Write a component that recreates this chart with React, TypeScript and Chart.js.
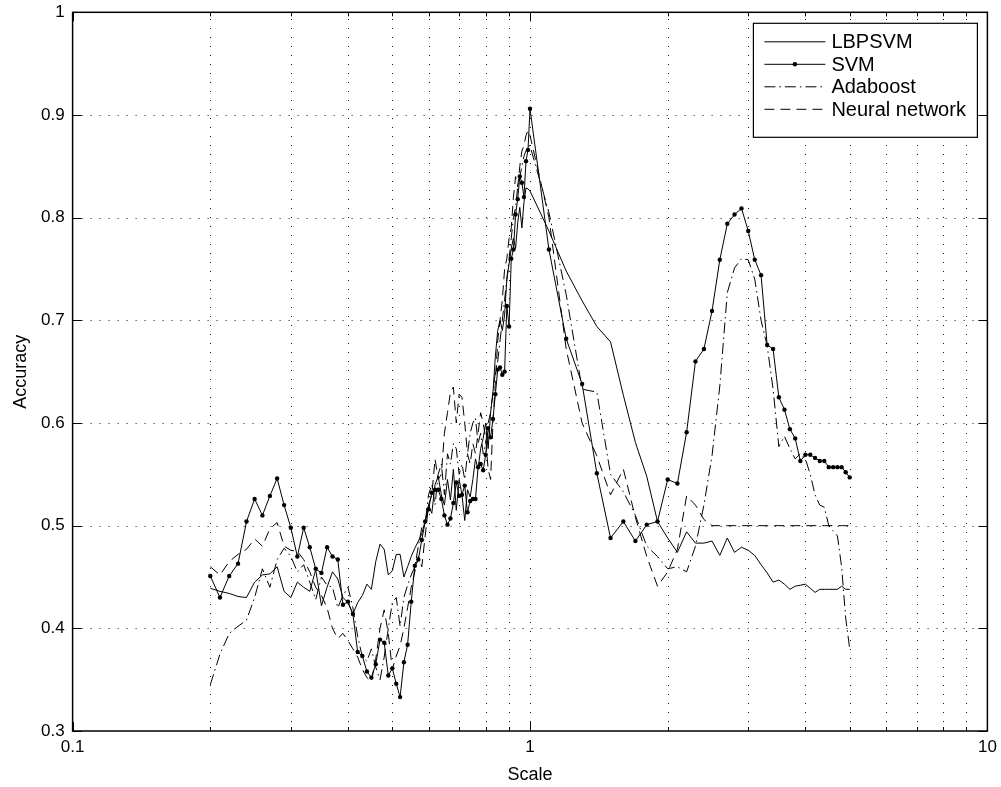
import React, { useEffect, useRef } from 'react';
import { Chart, registerables } from 'chart.js';

Chart.register(...registerables);

// ---------------- data ----------------
const scaleValues = [
  0.20, 0.21, 0.22, 0.23, 0.24, 0.25, 0.26, 0.27, 0.28, 0.29,
  0.30, 0.31, 0.32, 0.33, 0.34, 0.35, 0.36, 0.37, 0.38, 0.39,
  0.40, 0.41, 0.42, 0.43, 0.44, 0.45, 0.46, 0.47, 0.48, 0.49,
  0.50, 0.51, 0.52, 0.53, 0.54, 0.55, 0.56, 0.57, 0.58, 0.59,
  0.60, 0.61, 0.62, 0.63, 0.64, 0.65, 0.66, 0.67, 0.68, 0.69,
  0.70, 0.71, 0.72, 0.73, 0.74, 0.75, 0.76, 0.77, 0.78, 0.79,
  0.80, 0.81, 0.82, 0.83, 0.84, 0.85, 0.86, 0.87, 0.88, 0.89,
  0.90, 0.91, 0.92, 0.93, 0.94, 0.95, 0.96, 0.97, 0.98, 0.99,
  1.0,
  1.1, 1.2, 1.3, 1.4, 1.5, 1.6, 1.7, 1.8, 1.9, 2.0,
  2.1, 2.2, 2.3, 2.4, 2.5, 2.6, 2.7, 2.8, 2.9, 3.0,
  3.1, 3.2, 3.3, 3.4, 3.5, 3.6, 3.7, 3.8, 3.9, 4.0,
  4.1, 4.2, 4.3, 4.4, 4.5, 4.6, 4.7, 4.8, 4.9, 5.0,
];

const lbpsvm = [
  0.439, 0.436, 0.434, 0.431, 0.430, 0.445, 0.452, 0.453, 0.460, 0.436,
  0.430, 0.445, 0.440, 0.436, 0.457, 0.422, 0.440, 0.455, 0.448, 0.430,
  0.425, 0.414, 0.425, 0.432, 0.443, 0.438, 0.465, 0.482, 0.477, 0.452,
  0.456, 0.472, 0.472, 0.450, 0.460, 0.470, 0.478, 0.485, 0.492, 0.505,
  0.520, 0.512, 0.540, 0.548, 0.530, 0.520, 0.545, 0.525, 0.555, 0.515,
  0.545, 0.530, 0.505, 0.535, 0.528, 0.545, 0.565, 0.555, 0.575, 0.585,
  0.600, 0.575, 0.610, 0.630, 0.665, 0.690, 0.700, 0.690, 0.705, 0.740,
  0.755, 0.770, 0.780, 0.770, 0.795, 0.810, 0.790, 0.815, 0.829, 0.828,
  0.826,
  0.787, 0.748, 0.719, 0.694, 0.679, 0.627, 0.581, 0.548, 0.504, 0.488,
  0.474, 0.494, 0.483, 0.483, 0.485, 0.471, 0.488, 0.474, 0.479, 0.476,
  0.471, 0.462, 0.454, 0.445, 0.447, 0.443, 0.438, 0.441, 0.442, 0.443,
  0.439, 0.435, 0.438, 0.438, 0.438, 0.438, 0.438, 0.441, 0.438, 0.438,
];

const svm = [
  0.451, 0.430, 0.451, 0.463, 0.504, 0.526, 0.510, 0.529, 0.546, 0.520,
  0.498, 0.470, 0.498, 0.479, 0.458, 0.454, 0.479, 0.470, 0.467, 0.423,
  0.426, 0.414, 0.377, 0.373, 0.358, 0.352, 0.365, 0.389, 0.386, 0.354,
  0.361, 0.346, 0.333, 0.367, 0.384, 0.426, 0.461, 0.467, 0.486, 0.504,
  0.516, 0.532, 0.535, 0.535, 0.526, 0.510, 0.501, 0.507, 0.522, 0.542,
  0.529, 0.530, 0.539, 0.513, 0.524, 0.526, 0.526, 0.557, 0.560, 0.554,
  0.569, 0.595, 0.586, 0.604, 0.628, 0.652, 0.654, 0.647, 0.650, 0.714,
  0.694, 0.760, 0.769, 0.803, 0.818, 0.840, 0.834, 0.820, 0.855, 0.866,
  0.906,
  0.769, 0.682, 0.638, 0.551, 0.488, 0.504, 0.485, 0.501, 0.504, 0.545,
  0.541, 0.591, 0.660, 0.672, 0.709, 0.759, 0.794, 0.803, 0.809, 0.787,
  0.759, 0.744, 0.676, 0.672, 0.625, 0.613, 0.594, 0.585, 0.563, 0.569,
  0.569, 0.566, 0.563, 0.563, 0.557, 0.557, 0.557, 0.557, 0.552, 0.547,
];

const adaboost = [
  0.345, 0.375, 0.395, 0.402, 0.408, 0.430, 0.458, 0.440, 0.467, 0.478,
  0.470, 0.455, 0.462, 0.445, 0.428, 0.450, 0.442, 0.440, 0.420, 0.432,
  0.440, 0.420, 0.392, 0.372, 0.368, 0.380, 0.362, 0.350, 0.372, 0.400,
  0.425, 0.430, 0.402, 0.430, 0.442, 0.452, 0.460, 0.480, 0.498, 0.502,
  0.530, 0.540, 0.520, 0.550, 0.560, 0.530, 0.570, 0.560, 0.580, 0.575,
  0.550, 0.560, 0.545, 0.570, 0.590, 0.600, 0.605, 0.580, 0.590, 0.570,
  0.580, 0.600, 0.610, 0.630, 0.650, 0.660, 0.680, 0.700, 0.720, 0.740,
  0.760, 0.780, 0.800, 0.810, 0.830, 0.840, 0.850, 0.860, 0.865, 0.870,
  0.870,
  0.805, 0.725, 0.633, 0.630, 0.550, 0.533, 0.510, 0.480, 0.470, 0.458,
  0.460, 0.455, 0.480, 0.520, 0.568, 0.636, 0.727, 0.751, 0.760, 0.759,
  0.740, 0.700, 0.675, 0.633, 0.577, 0.587, 0.575, 0.565, 0.570, 0.565,
  0.550, 0.530, 0.520, 0.518, 0.500, 0.495, 0.490, 0.460, 0.410, 0.380,
];

const neuralNetwork = [
  0.460, 0.452, 0.465, 0.472, 0.477, 0.487, 0.480, 0.497, 0.503, 0.480,
  0.476, 0.475, 0.467, 0.455, 0.440, 0.432, 0.420, 0.400, 0.390, 0.395,
  0.388, 0.380, 0.372, 0.360, 0.352, 0.348, 0.370, 0.400, 0.418, 0.395,
  0.360, 0.373, 0.383, 0.400, 0.420, 0.440, 0.455, 0.470, 0.460, 0.490,
  0.520, 0.530, 0.565, 0.545, 0.550, 0.590, 0.610, 0.630, 0.635, 0.600,
  0.628, 0.625, 0.600, 0.570, 0.560, 0.580, 0.570, 0.590, 0.610, 0.600,
  0.585, 0.555, 0.545, 0.600, 0.640, 0.680, 0.700, 0.720, 0.750, 0.760,
  0.780, 0.790, 0.820, 0.840, 0.830, 0.850, 0.865, 0.870, 0.880, 0.885,
  0.880,
  0.800, 0.672, 0.600, 0.568, 0.530, 0.555, 0.508, 0.470, 0.441, 0.455,
  0.477, 0.529, 0.520, 0.506, 0.500, 0.500, 0.500, 0.500, 0.500, 0.500,
  0.500, 0.500, 0.500, 0.500, 0.500, 0.500, 0.500, 0.500, 0.500, 0.500,
  0.500, 0.500, 0.500, 0.500, 0.500, 0.500, 0.500, 0.500, 0.500, 0.500,
];

const seriesNames = ['LBPSVM', 'SVM', 'Adaboost', 'Neural network'];

const xTickValues = [0.1, 0.2, 0.3, 0.4, 0.5, 0.6, 0.7, 0.8, 0.9, 1, 2, 3, 4, 5, 6, 7, 8, 9, 10];
const xTickLabels = ['0.1', '', '', '', '', '', '', '', '', '1', '', '', '', '', '', '', '', '', '10'];
const yTickValues = [0.3, 0.4, 0.5, 0.6, 0.7, 0.8, 0.9, 1.0];
const yTickLabels = ['0.3', '0.4', '0.5', '0.6', '0.7', '0.8', '0.9', '1'];

const xTitle = 'Scale';
const yTitle = 'Accuracy';

// ---------------- styling ----------------
const FONT = "'Liberation Sans', Arial, Helvetica, sans-serif";
const BLACK = '#000000';

const toPoints = (ys: number[]) => scaleValues.map((x, i) => ({ x, y: ys[i] }));

const frameAndGridPlugin = {
  id: 'frameAndGrid',
  beforeDatasetsDraw(chart: any) {
    const { ctx, chartArea: a, scales } = chart;
    const xs = scales.x;
    const ys = scales.y;
    ctx.save();
    ctx.strokeStyle = '#1a1a1a';
    ctx.lineWidth = 1;
    ctx.setLineDash([1, 8]);
    xTickValues.forEach((v, i) => {
      if (i === 0 || i === xTickValues.length - 1) return;
      const px = Math.round(xs.getPixelForValue(v)) + 0.5;
      ctx.beginPath();
      ctx.moveTo(px, a.bottom);
      ctx.lineTo(px, a.top);
      ctx.stroke();
    });
    yTickValues.forEach((v, i) => {
      if (i === 0 || i === yTickValues.length - 1) return;
      const py = Math.round(ys.getPixelForValue(v)) + 0.5;
      ctx.beginPath();
      ctx.moveTo(a.left, py);
      ctx.lineTo(a.right, py);
      ctx.stroke();
    });
    ctx.restore();
  },
  afterDraw(chart: any) {
    const { ctx, chartArea: a, scales } = chart;
    const xs = scales.x;
    const ys = scales.y;
    ctx.save();
    ctx.setLineDash([]);
    ctx.strokeStyle = BLACK;
    ctx.lineWidth = 1;
    // inward ticks
    xTickValues.forEach((v, i) => {
      const px = Math.round(xs.getPixelForValue(v)) + 0.5;
      const len = xTickLabels[i] ? 9 : 4;
      ctx.beginPath();
      ctx.moveTo(px, a.bottom);
      ctx.lineTo(px, a.bottom - len);
      ctx.moveTo(px, a.top);
      ctx.lineTo(px, a.top + len);
      ctx.stroke();
    });
    yTickValues.forEach((v) => {
      const py = Math.round(ys.getPixelForValue(v)) + 0.5;
      ctx.beginPath();
      ctx.moveTo(a.left, py);
      ctx.lineTo(a.left + 9, py);
      ctx.moveTo(a.right, py);
      ctx.lineTo(a.right - 9, py);
      ctx.stroke();
    });
    // frame
    ctx.lineWidth = 1.5;
    ctx.strokeRect(a.left, a.top, a.right - a.left, a.bottom - a.top);

    // legend box
    const bx = a.right - 234;
    const by = a.top + 11;
    const bw = 224;
    const bh = 114;
    ctx.fillStyle = '#ffffff';
    ctx.fillRect(bx, by, bw, bh);
    ctx.lineWidth = 1.2;
    ctx.strokeRect(bx, by, bw, bh);

    const datasets = chart.data.datasets;
    ctx.font = `20px ${FONT}`;
    ctx.textBaseline = 'middle';
    ctx.textAlign = 'left';
    datasets.forEach((ds: any, i: number) => {
      const rowY = by + 18.5 + i * 22.5;
      const x0 = bx + 11;
      const x1 = bx + 72;
      ctx.save();
      ctx.strokeStyle = BLACK;
      ctx.lineWidth = 1;
      ctx.setLineDash(ds.borderDash || []);
      ctx.beginPath();
      ctx.moveTo(x0, rowY);
      ctx.lineTo(x1, rowY);
      ctx.stroke();
      ctx.restore();
      if (ds.pointRadius > 0) {
        ctx.beginPath();
        ctx.fillStyle = BLACK;
        ctx.arc((x0 + x1) / 2, rowY, ds.pointRadius, 0, Math.PI * 2);
        ctx.fill();
      }
      ctx.fillStyle = BLACK;
      ctx.fillText(seriesNames[i], bx + 78, rowY + 1);
    });
    ctx.restore();
  },
};

export default function App() {
  const canvasRef = useRef<HTMLCanvasElement | null>(null);

  useEffect(() => {
    document.body.style.margin = '0';
    const canvas = canvasRef.current;
    if (!canvas) return;

    const chart = new Chart(canvas, {
      type: 'line',
      data: {
        datasets: [
          {
            label: seriesNames[0],
            data: toPoints(lbpsvm),
            borderColor: BLACK,
            borderWidth: 1,
            pointRadius: 0,
            fill: false,
          },
          {
            label: seriesNames[1],
            data: toPoints(svm),
            borderColor: BLACK,
            borderWidth: 1,
            pointRadius: 2.2,
            pointBackgroundColor: BLACK,
            pointBorderColor: BLACK,
            pointBorderWidth: 0,
            fill: false,
          },
          {
            label: seriesNames[2],
            data: toPoints(adaboost),
            borderColor: BLACK,
            borderWidth: 1,
            borderDash: [11, 4, 1.5, 4],
            pointRadius: 0,
            fill: false,
          },
          {
            label: seriesNames[3],
            data: toPoints(neuralNetwork),
            borderColor: BLACK,
            borderWidth: 1,
            borderDash: [10, 6],
            pointRadius: 0,
            fill: false,
          },
        ] as any,
      },
      options: {
        responsive: false,
        animation: false,
        events: [],
        layout: { padding: { top: 12.3, right: 13.6, left: 0, bottom: 0 } },
        elements: { line: { tension: 0 } },
        plugins: {
          legend: { display: false },
          tooltip: { enabled: false },
        },
        scales: {
          x: {
            type: 'logarithmic',
            min: 0.1,
            max: 10,
            grid: { display: false, drawTicks: false },
            border: { display: false },
            afterBuildTicks: (scale: any) => {
              scale.ticks = xTickValues.map((v) => ({ value: v }));
            },
            afterFit: (scale: any) => {
              scale.height = 56;
              scale.paddingLeft = 0;
              scale.paddingRight = 0;
            },
            ticks: {
              autoSkip: false,
              maxRotation: 0,
              minRotation: 0,
              padding: 6,
              color: BLACK,
              font: { family: FONT, size: 17 },
              callback: (_v: any, index: number) => xTickLabels[index] ?? '',
            },
            title: {
              display: true,
              text: xTitle,
              color: BLACK,
              font: { family: FONT, size: 18 },
              padding: { top: 0, bottom: 1 },
            },
          },
          y: {
            type: 'linear',
            min: 0.3,
            max: 1,
            grid: { display: false, drawTicks: false },
            border: { display: false },
            afterBuildTicks: (scale: any) => {
              scale.ticks = yTickValues.map((v) => ({ value: v }));
            },
            afterFit: (scale: any) => {
              scale.width = 72.6;
              scale.paddingTop = 0;
              scale.paddingBottom = 0;
            },
            ticks: {
              padding: 8,
              color: BLACK,
              font: { family: FONT, size: 17 },
              callback: (_v: any, index: number) => yTickLabels[index] ?? '',
            },
            title: {
              display: true,
              text: yTitle,
              color: BLACK,
              font: { family: FONT, size: 18 },
              padding: { top: 10, bottom: 0 },
            },
          },
        } as any,
      },
      plugins: [frameAndGridPlugin],
    });

    return () => chart.destroy();
  }, []);

  return (
    <div style={{ width: 1001, height: 787 }}>
      <canvas ref={canvasRef} width={1001} height={787} style={{ display: 'block' }} />
    </div>
  );
}
